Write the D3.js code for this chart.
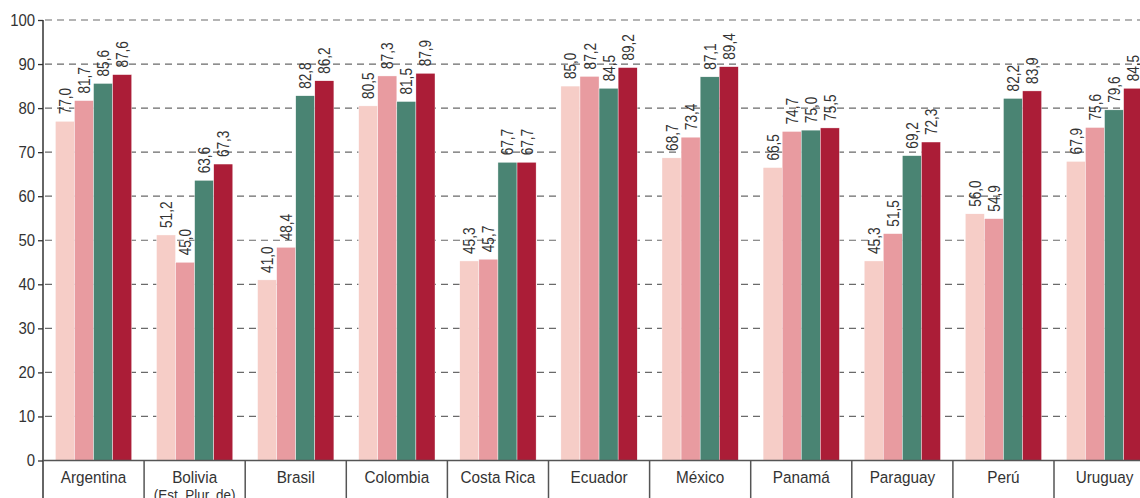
<!DOCTYPE html>
<html><head><meta charset="utf-8">
<script src="https://cdn.jsdelivr.net/npm/d3@7"></script>
<style>
html,body{margin:0;padding:0;background:#fff;overflow:hidden;}
svg{display:block;}
text{font-family:"Liberation Sans",Arial,sans-serif;fill:#333;}
</style></head>
<body>
<svg id="c" width="1140" height="498"></svg>
<script>
const categories = ["Argentina","Bolivia","Brasil","Colombia","Costa Rica","Ecuador","México","Panamá","Paraguay","Perú","Uruguay"];
const subLabels = ["","(Est. Plur. de)","","","","","","","","",""];
const seriesNames = ["s1","s2","s3","s4"];
const s1 = [77.0,51.2,41.0,80.5,45.3,85.0,68.7,66.5,45.3,56.0,67.9];
const s2 = [81.7,45.0,48.4,87.3,45.7,87.2,73.4,74.7,51.5,54.9,75.6];
const s3 = [85.6,63.6,82.8,81.5,67.7,84.5,87.1,75.0,69.2,82.2,79.6];
const s4 = [87.6,67.3,86.2,87.9,67.7,89.2,89.4,75.5,72.3,83.9,84.5];
const yTicks = [0,10,20,30,40,50,60,70,80,90,100];
const colors = ["#f6cdc7","#e89ba0","#4a8473","#ab1d37"];

const series = [s1,s2,s3,s4];
const SXv = 0.8, SXc = 0.9, SXy = 0.88;
const svg = d3.select("#c");
const x0 = 43, bandW = 101.1;
const x = d3.scaleBand().domain(categories).range([x0, x0 + bandW*categories.length]).paddingInner(0).paddingOuter(0);
const x1 = d3.scaleBand().domain(seriesNames).range([0, x.bandwidth()]).paddingInner(0).paddingOuter(0.65);
const y = d3.scaleLinear().domain([0,100]).range([460.5,20]);

// gridlines
svg.append("g").selectAll("line").data(yTicks.filter(d=>d>0)).join("line")
  .attr("x1", x0+2).attr("x2", 1140)
  .attr("y1", d=>y(d)).attr("y2", d=>y(d))
  .attr("stroke","#6a6a6a").attr("stroke-width",1.2).attr("stroke-dasharray","7,5");

// bars
const groups = svg.append("g").selectAll("g").data(categories).join("g")
  .attr("transform", d=>`translate(${x(d)},0)`);
groups.each(function(c, i){
  const g = d3.select(this);
  const vals = series.map((s,k)=>({k, name: seriesNames[k], v: s[i]}));
  g.selectAll("rect").data(vals).join("rect")
    .attr("x", d=>x1(d.name)).attr("width", x1.bandwidth())
    .attr("y", d=>y(d.v)).attr("height", d=>y(0)-y(d.v))
    .attr("fill", d=>colors[d.k])
    .attr("stroke","#fff").attr("stroke-width",0.4);
  g.selectAll("text.v").data(vals).join("text").attr("class","v")
    .attr("transform", d=>`translate(${x1(d.name)+x1.bandwidth()/2+6},${y(d.v)-7}) rotate(-90) scale(${SXv},1)`)
    .attr("text-anchor","start")
    .style("font-size","17px")
    .text(d=>d3.format(".1f")(d.v).replace(".",","));
});

// y axis
const yAxis = d3.axisLeft(y).tickValues(yTicks).tickSize(5).tickPadding(4).tickFormat(d3.format("d"));
const ya = svg.append("g").attr("transform",`translate(${x0},0)`).call(yAxis);
ya.select(".domain").remove();
ya.selectAll("line").attr("stroke","#333").attr("stroke-width",1.3);
ya.selectAll("text").style("font-size","17px").attr("fill","#333").style("font-family",'"Liberation Sans",sans-serif')
  .attr("transform",`scale(${SXy},1)`);
svg.append("line").attr("x1",x0).attr("x2",x0).attr("y1",y(100)).attr("y2",498)
  .attr("stroke","#333").attr("stroke-width",1.5);

// baseline
svg.append("line").attr("x1",x0).attr("x2",1140).attr("y1",y(0)).attr("y2",y(0))
  .attr("stroke","#555").attr("stroke-width",1.5);

// category separators
svg.append("g").selectAll("line").data(categories.slice(1)).join("line")
  .attr("x1",d=>x(d)).attr("x2",d=>x(d)).attr("y1",y(0)).attr("y2",498)
  .attr("stroke","#555").attr("stroke-width",1.5);

// category labels
svg.append("g").selectAll("text").data(categories).join("text")
  .attr("transform", d=>`translate(${x(d)+x.bandwidth()/2},483) scale(${SXc},1)`)
  .attr("text-anchor","middle").style("font-size","17px").text(d=>d);
svg.append("g").selectAll("text").data(categories.map((c,i)=>({c, s: subLabels[i]})).filter(d=>d.s)).join("text")
  .attr("transform", d=>`translate(${x(d.c)+x.bandwidth()/2},500) scale(${SXc},1)`)
  .attr("text-anchor","middle").style("font-size","15px").text(d=>d.s);
</script>
</body></html>
